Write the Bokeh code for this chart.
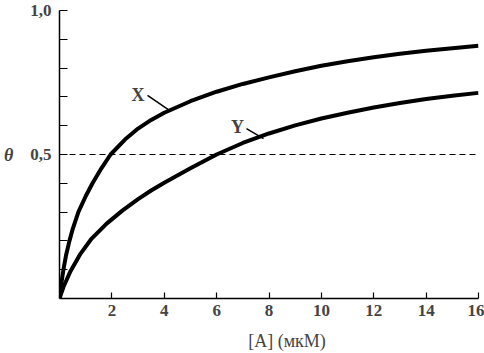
from bokeh.plotting import figure
from bokeh.models import Range1d, FixedTicker, Span, Label
from bokeh.embed import file_html
from bokeh.resources import INLINE

# Data
a_x = [0, 0.05, 0.15, 0.25, 0.38, 0.5, 0.72, 1.0, 1.26, 1.6, 1.95, 2.5, 3.0, 3.5, 4.0, 5.0, 6.0, 7.0, 8.0, 9.0, 10.0, 11.0, 12.0, 13.0, 14.0, 15.0, 16.0]
theta_x = [0, 0.04, 0.10, 0.15, 0.20, 0.24, 0.30, 0.355, 0.40, 0.452, 0.50, 0.552, 0.59, 0.62, 0.645, 0.685, 0.718, 0.745, 0.768, 0.789, 0.808, 0.824, 0.838, 0.850, 0.860, 0.869, 0.878]
a_y = [0, 0.15, 0.42, 0.8, 1.2, 1.8, 2.4, 3.0, 3.5, 4.0, 5.0, 6.0, 7.0, 8.0, 9.0, 10.0, 11.0, 12.0, 13.0, 14.0, 15.0, 16.0]
theta_y = [0, 0.04, 0.095, 0.155, 0.205, 0.26, 0.305, 0.345, 0.375, 0.402, 0.452, 0.50, 0.54, 0.573, 0.601, 0.625, 0.645, 0.663, 0.679, 0.693, 0.704, 0.714]
x_ticks = [2, 4, 6, 8, 10, 12, 14, 16]
y_major = [0.5, 1.0]
y_minor = [0.1, 0.2, 0.3, 0.4, 0.6, 0.7, 0.8, 0.9]
y_tick_labels = {0.5: "0,5", 1.0: "1,0"}
half = 0.5
x_label_pos = (3.0, 0.708)
x_lead = ([3.36, 4.24], [0.705, 0.651])
y_label_pos = (6.8, 0.594)
y_lead = ([7.14, 7.79], [0.590, 0.555])

FONT = "Liberation Serif"

p = figure(width=484, height=353, output_backend="svg", toolbar_location=None,
           x_range=Range1d(0, 16), y_range=Range1d(0, 1),
           min_border_left=59, min_border_right=6, min_border_top=10, min_border_bottom=55)
p.outline_line_color = None
p.xgrid.visible = False
p.ygrid.visible = False
p.background_fill_color = "white"
p.border_fill_color = "white"

ax = p.xaxis[0]
ax.ticker = FixedTicker(ticks=x_ticks)
ax.major_tick_in = 6
ax.major_tick_out = 0
ax.minor_tick_line_color = None
ax.axis_line_width = 1.5
ax.major_tick_line_width = 1.2
ax.major_label_text_font = FONT
ax.major_label_text_font_style = "bold"
ax.major_label_text_font_size = "17px"
ax.major_label_standoff = 6
ax.axis_label = "\u2003\u2003[A] (мкМ)"
ax.axis_label_text_font = FONT
ax.axis_label_text_font_style = "normal"
ax.axis_label_text_font_size = "18px"
ax.axis_label_standoff = 12

ay = p.yaxis[0]
ay.ticker = FixedTicker(ticks=y_major, minor_ticks=y_minor)
ay.major_tick_in = 8
ay.major_tick_out = 0
ay.minor_tick_in = 8
ay.minor_tick_out = 0
ay.axis_line_width = 1.5
ay.major_tick_line_width = 1.2
ay.minor_tick_line_width = 1.2
ay.major_label_overrides = y_tick_labels
ay.major_label_text_font = FONT
ay.major_label_text_font_style = "bold"
ay.major_label_text_font_size = "17px"
ay.major_label_standoff = 8
ay.axis_label = "θ"
ay.axis_label_orientation = "horizontal"
ay.axis_label_text_font = FONT
ay.axis_label_text_font_style = "bold italic"
ay.axis_label_text_font_size = "18px"
ay.axis_label_standoff = 14

p.add_layout(Span(location=half, dimension="width", line_color="black",
                  line_width=1, line_dash="6 4"))

p.line(a_x, theta_x, line_color="black", line_width=4, line_join="round")
p.line(a_y, theta_y, line_color="black", line_width=4, line_join="round")

p.line(x_lead[0], x_lead[1], line_color="black", line_width=1.5)
p.line(y_lead[0], y_lead[1], line_color="black", line_width=1.5)

for txt, (lx, ly) in (("X", x_label_pos), ("Y", y_label_pos)):
    p.add_layout(Label(x=lx, y=ly, text=txt, text_font=FONT, text_font_style="bold",
                       text_font_size="18px", text_align="center", text_baseline="middle"))

open("out.html", "w").write(file_html(p, INLINE))
